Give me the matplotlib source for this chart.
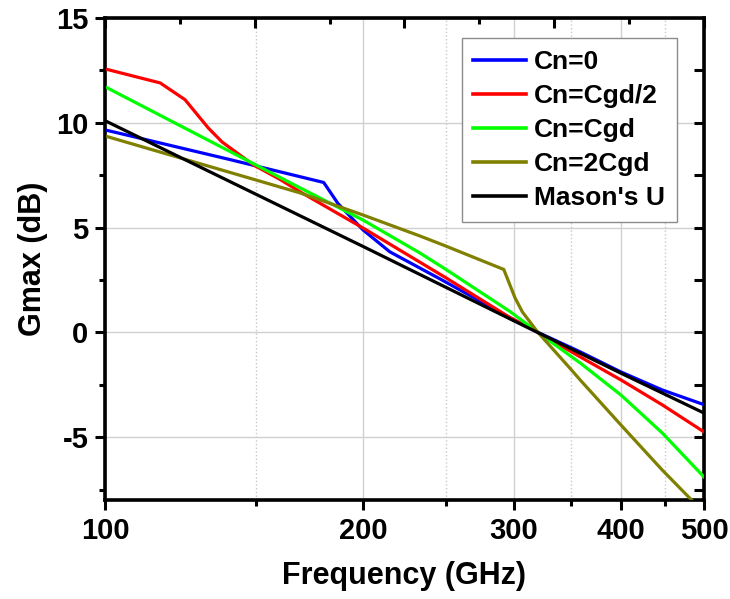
import numpy as np
import matplotlib
matplotlib.use('Agg')
import matplotlib.pyplot as plt
from matplotlib.ticker import FixedLocator, FixedFormatter, NullFormatter

plt.rcParams['font.family'] = ['Liberation Sans', 'DejaVu Sans']
plt.rcParams['font.weight'] = 'bold'
plt.rcParams['axes.unicode_minus'] = False

# datos (GHz, dB)
freq_cn0 = [100, 140, 180, 187, 200, 215, 246, 297, 320, 358.5, 400, 447, 500]
gmax_cn0 = [9.66, 8.24, 7.15, 6.15, 4.89, 3.84, 2.55, 0.7, 0.0, -0.93, -1.89, -2.75, -3.45]

freq_cgd2 = [100, 116, 124, 132, 137, 149, 160, 169, 200, 250, 297, 320, 358.5, 400, 447, 500]
gmax_cgd2 = [12.57, 11.9, 11.1, 9.75, 9.08, 7.99, 7.3, 6.7, 4.98, 2.6, 0.7, 0.0, -1.17, -2.27, -3.46, -4.75]

freq_cgd = [100, 169, 200, 233, 250, 297, 320, 358.5, 400, 447, 500]
gmax_cgd = [11.72, 6.89, 5.36, 3.79, 3.0, 0.99, 0.0, -1.46, -2.99, -4.8, -6.9]

freq_2cgd = [100, 150, 169, 200, 233, 248, 292, 301, 307, 320, 348.6, 358.5, 400, 447, 481, 500]
gmax_2cgd = [9.37, 7.27, 6.65, 5.6, 4.6, 4.17, 3.0, 1.64, 0.97, 0.0, -1.7, -2.27, -4.42, -6.57, -7.9, -8.6]

freq_mason = [100, 200, 300, 400, 500]
gmax_mason = [10.1, 4.1, 0.55, -1.95, -3.85]

series = [
    (freq_cn0, gmax_cn0, '#0000ff', 'Cn=0'),
    (freq_cgd2, gmax_cgd2, '#ff0000', 'Cn=Cgd/2'),
    (freq_cgd, gmax_cgd, '#00ff00', 'Cn=Cgd'),
    (freq_2cgd, gmax_2cgd, '#808000', 'Cn=2Cgd'),
    (freq_mason, gmax_mason, '#000000', "Mason's U"),
]

x_major = [100, 200, 300, 400, 500]
x_minor = [150, 250, 350, 450]
x_labels = ['100', '200', '300', '400', '500']

fig = plt.figure(figsize=(7.30, 5.99), dpi=100)
ax = fig.add_axes([0.1438, 0.1653, 0.8205, 0.8047])

for f, g, c, lab in series:
    ax.plot(f, g, color=c, lw=2.3, label=lab, zorder=3)

ax.set_xscale('log')
ax.set_xlim(100, 500)
ax.set_ylim(-8, 15)

ax.xaxis.set_major_locator(FixedLocator(x_major))
ax.xaxis.set_major_formatter(FixedFormatter(x_labels))
ax.xaxis.set_minor_locator(FixedLocator(x_minor))
ax.xaxis.set_minor_formatter(NullFormatter())
ax.yaxis.set_major_locator(FixedLocator([-5, 0, 5, 10, 15]))
ax.yaxis.set_minor_locator(FixedLocator([-7.5, -2.5, 2.5, 7.5, 12.5]))

# rejilla
ax.grid(which='major', color='#d0d0d0', lw=1.0, ls='-', zorder=0)
ax.xaxis.grid(which='minor', color='#c8c8c8', lw=1.0, ls=':', zorder=0)

ax.tick_params(which='major', direction='out', length=7, width=2.2, labelsize=21, pad=5)
ax.tick_params(which='minor', direction='out', length=4, width=2.2)
for s in ax.spines.values():
    s.set_linewidth(2.6)

ax.set_xlabel('Frequency (GHz)', fontsize=22, fontweight='bold', labelpad=12)
ax.set_ylabel('Gmax (dB)', fontsize=22, fontweight='bold', labelpad=6)

# eje superior (marcas lineales, sin etiquetas)
ax2 = ax.twiny()
ax2.set_xlim(0, 8)
ax2.xaxis.set_major_locator(FixedLocator([0, 2, 4, 6, 8]))
ax2.xaxis.set_minor_locator(FixedLocator([1, 3, 5, 7]))
ax2.tick_params(which='major', direction='in', length=7, width=2.2, labeltop=False)
ax2.tick_params(which='minor', direction='in', length=4, width=2.2)

# eje derecho
ax3 = ax.twinx()
ax3.set_ylim(-8, 15)
ax3.yaxis.set_major_locator(FixedLocator([-7.5, -5, -2.5, 0, 2.5, 5, 7.5, 10, 12.5]))
ax3.tick_params(which='major', direction='in', length=7, width=2.2, labelright=False)

leg = ax.legend(loc='upper right', bbox_to_anchor=(0.955, 0.958), borderaxespad=0,
                fontsize=19, handlelength=2.0, handletextpad=0.3, labelspacing=0.38,
                borderpad=0.45, fancybox=False, framealpha=1, edgecolor='#8c8c8c')
leg.get_frame().set_linewidth(1.0)
leg.set_zorder(5)
for l in leg.get_lines():
    l.set_linewidth(2.6)

fig.savefig('out.png', dpi=100)
